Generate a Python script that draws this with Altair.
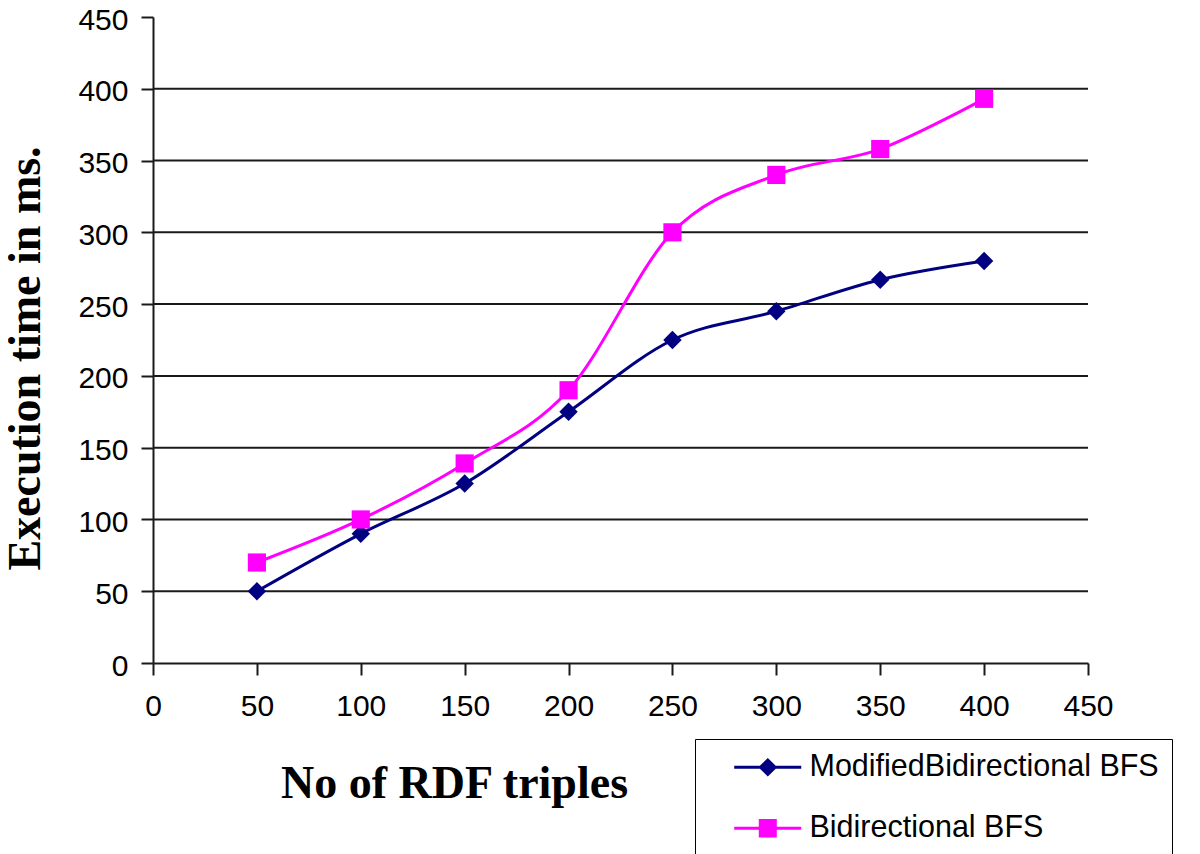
import altair as alt
import pandas as pd

# ---- data ----
triples = [50, 100, 150, 200, 250, 300, 350, 400]
modified_bfs = [50, 90, 125, 175, 225, 245, 267, 280]
bidirectional_bfs = [70, 100, 139, 190, 300, 340, 358, 393]
series_names = ["ModifiedBidirectional BFS", "Bidirectional BFS"]
axis_ticks = [0, 50, 100, 150, 200, 250, 300, 350, 400, 450]
grid_values = [50, 100, 150, 200, 250, 300, 350, 400]

rows = []
for x, v in zip(triples, modified_bfs):
    rows.append({"triples": x, "time": v, "series": series_names[0]})
for x, v in zip(triples, bidirectional_bfs):
    rows.append({"triples": x, "time": v, "series": series_names[1]})
df = pd.DataFrame(rows)
grid_df = pd.DataFrame({"g": grid_values})

colors = ["#000080", "#FF00FF"]
AX = "#1a1a1a"
LABEL_FONT = "Liberation Sans"
TITLE_FONT = "Liberation Serif"

xscale = alt.Scale(domain=[0, 450], nice=False, zero=True)
yscale = alt.Scale(domain=[0, 450], nice=False, zero=True)
cscale = alt.Scale(domain=series_names, range=colors)

x_axis = alt.Axis(
    values=axis_ticks, grid=False, domainColor=AX, domainWidth=2,
    tickColor=AX, tickWidth=2, tickSize=12, labelFont=LABEL_FONT,
    labelFontSize=30, labelColor="black", labelPadding=16, labelFlush=False,
    labelOverlap=False, title="No of RDF triples", titleFont=TITLE_FONT,
    titleFontWeight="bold", titleFontSize=46, titleColor="black",
    titleX=301, titleY=134, titleAlign="center", titleBaseline="alphabetic",
)
y_axis = alt.Axis(
    values=axis_ticks, grid=False, domainColor=AX, domainWidth=2,
    tickColor=AX, tickWidth=2, tickSize=12, labelFont=LABEL_FONT,
    labelFontSize=30, labelColor="black", labelPadding=13, labelFlush=False,
    labelOffset=3, labelOverlap=False, title="Execution time in ms.",
    titleFont=TITLE_FONT, titleFontWeight="bold", titleFontSize=46,
    titleColor="black", titleAngle=270, titleX=-114, titleY=341,
    titleAlign="center", titleBaseline="alphabetic",
)

grid = alt.Chart(grid_df).mark_rule(color=AX, strokeWidth=2).encode(
    y=alt.Y("g:Q", scale=yscale, axis=y_axis)
)

base = alt.Chart(df)

lines = base.mark_line(interpolate="cardinal", tension=0, strokeWidth=3).encode(
    x=alt.X("triples:Q", scale=xscale, axis=x_axis),
    y=alt.Y("time:Q", scale=yscale, axis=y_axis),
    color=alt.Color("series:N", scale=cscale, legend=None),
    detail="series:N",
)

pts_mod = base.transform_filter(alt.datum.series == series_names[0]).mark_point(
    filled=True, shape="diamond", size=340, opacity=1
).encode(
    x=alt.X("triples:Q", scale=xscale, axis=x_axis),
    y=alt.Y("time:Q", scale=yscale, axis=y_axis),
    color=alt.Color("series:N", scale=cscale, legend=None),
)
pts_bi = base.transform_filter(alt.datum.series == series_names[1]).mark_point(
    filled=True, shape="square", size=330, opacity=1
).encode(
    x=alt.X("triples:Q", scale=xscale, axis=x_axis),
    y=alt.Y("time:Q", scale=yscale, axis=y_axis),
    color=alt.Color("series:N", scale=cscale, legend=None),
)

# legend symbols: a line segment with the series marker
sym_mod = "M0.73,-0.1H5.2V0.1H0.73Z M2.97,-0.62L3.6,0L2.97,0.62L2.34,0Z"
sym_bi = "M0.73,-0.1H5.2V0.1H0.73Z M2.37,-0.62H3.57V0.62H2.37Z"

legend = alt.Legend(
    orient="none", legendX=542, legendY=722, title=None,
    strokeColor="black", fillColor="white", padding=13,
    labelFont=LABEL_FONT, labelFontSize=30.5, labelColor="black",
    labelOffset=71, symbolSize=900, symbolOpacity=1, symbolStrokeWidth=0,
    rowPadding=30, labelLimit=700,
    labelExpr="datum.label + '\u2003'",
)
legend_layer = base.mark_point(filled=True, opacity=0).encode(
    x=alt.X("triples:Q", scale=xscale, axis=x_axis),
    y=alt.Y("time:Q", scale=yscale, axis=y_axis),
    color=alt.Color("series:N", scale=cscale, legend=legend),
    shape=alt.Shape("series:N", scale=alt.Scale(domain=series_names, range=[sym_mod, sym_bi]), legend=legend),
)

chart = alt.layer(grid, lines, pts_mod, pts_bi, legend_layer).resolve_legend(
    color="independent", shape="independent"
).properties(
    width=935, height=646,
    background="white",
    autosize=alt.AutoSizeParams(type="none"),
    padding={"left": 145, "top": 9, "right": 104, "bottom": 191},
).configure_view(stroke=None)

chart.save("out.html", embed_options={"renderer": "svg", "actions": False})
